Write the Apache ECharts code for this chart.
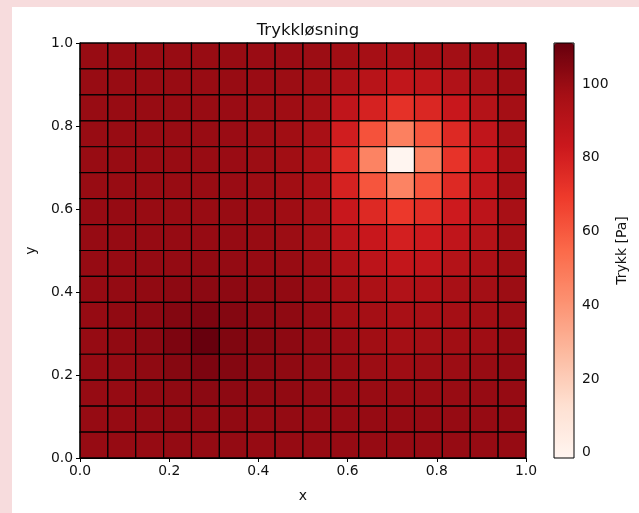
<!DOCTYPE html>
<html><head><meta charset="utf-8">
<script src="https://cdn.jsdelivr.net/npm/echarts@6/dist/echarts.min.js"></script>
<style>
html,body{margin:0;padding:0;background:#f7dcdd;width:639px;height:513px;overflow:hidden;}
#bg{position:absolute;left:12px;top:7px;right:0;bottom:0;background:#fff;}
#c{position:absolute;left:0;top:0;width:639px;height:513px;}
</style>
</head><body><div id="bg"></div><div id="c"></div>
<script>
// Pressure values, rows listed from top (y near 1) to bottom (y near 0), 16 columns from x=0 to x=1
const r00 = [100, 100, 100, 100, 100, 100, 99.5, 99.5, 99, 98, 96.5, 95.5, 96.5, 97.5, 98.5, 99.5];
const r01 = [100, 100, 100, 100, 100, 100, 99.5, 99, 98, 94, 90, 86.5, 88, 92.5, 96, 98.5];
const r02 = [100, 100, 100, 100, 100, 99.5, 99, 98.5, 97, 87, 79, 73, 77, 84, 91.5, 97];
const r03 = [100, 100, 100, 100, 100, 99.5, 99, 98, 95.5, 81, 62, 47, 61, 76, 87, 96];
const r04 = [100, 100, 100, 100, 100, 99.5, 99, 98, 94.5, 75, 46, -1.4, 47, 72, 85, 95];
const r05 = [100, 100, 100, 100, 100, 99.5, 99, 98, 95, 79, 61, 46, 61, 76, 86.5, 95.5];
const r06 = [100.5, 100.5, 100, 100, 100, 100, 99.5, 98.5, 96, 84, 76, 70, 74.5, 82, 88.5, 96];
const r07 = [100.5, 100.5, 100.5, 100.5, 100.5, 100.5, 100, 99, 97, 89, 84, 80, 82, 87, 91.5, 97];
const r08 = [100.5, 100.5, 101, 101, 101.5, 101, 100.5, 100, 98.5, 93.5, 88.5, 86, 87, 91.5, 95, 98];
const r09 = [100.5, 101, 101.5, 102.5, 103, 102.5, 102, 101.5, 99.5, 97, 94.5, 92.5, 93.5, 96, 97.5, 99];
const r10 = [100.5, 101.5, 102.5, 104.5, 106, 104.5, 103, 102, 100.5, 98, 97, 95.5, 96, 97, 98, 99];
const r11 = [100.5, 101.5, 103, 106, 111, 105.5, 104, 102.5, 101, 99.5, 98, 97, 97.5, 98, 98.5, 100];
const r12 = [100.5, 101, 102, 104, 106, 104.5, 103, 102, 101, 100, 99, 98.5, 99, 99, 100, 100.5];
const r13 = [100.5, 100.5, 101.5, 102, 103, 102.5, 102, 101.5, 101, 100.5, 100, 100, 100, 100, 100.5, 100.5];
const r14 = [100.5, 100.5, 101, 101.5, 101.5, 101.5, 101, 101, 100.5, 100.5, 100.5, 100.5, 100.5, 100.5, 100.5, 100.5];
const r15 = [100.5, 100.5, 100.5, 101, 101, 101, 100.5, 100.5, 100.5, 100.5, 100.5, 100.5, 100.5, 100.5, 100.5, 100.5];
const rowsTopToBottom = [r00, r01, r02, r03, r04, r05, r06, r07, r08, r09, r10, r11, r12, r13, r14, r15];

const xTicks = [0, 0.2, 0.4, 0.6, 0.8, 1.0];
const yTicks = [0, 0.2, 0.4, 0.6, 0.8, 1.0];
const cbarTicks = [0, 20, 40, 60, 80, 100];
const cbarMin = -1.4;
const cbarMax = 111.1;
const redsColors = ['#fff5f0', '#fee0d2', '#fcbba1', '#fc9272', '#fb6a4a', '#ef3b2c', '#cb181d', '#a50f15', '#67000d'];

const n = 16;
const cell = 1 / n;
const data = [];
rowsTopToBottom.forEach(function (row, r) {
  row.forEach(function (v, c) {
    data.push([c * cell, 1 - (r + 1) * cell, v]);
  });
});

const font = 'DejaVu Sans';
const chart = echarts.init(document.getElementById('c'), null, {renderer: 'canvas'});
chart.setOption({
  animation: false,
  backgroundColor: 'transparent',
  title: {
    text: 'Trykkløsning', left: 303, top: 17, textAlign: 'center',
    textStyle: {fontFamily: font, fontSize: 16.5, fontWeight: 'normal', color: '#111'}
  },
  grid: [
    {left: 80, top: 43, width: 446, height: 415, show: true, borderColor: '#000', borderWidth: 1, backgroundColor: 'transparent', z: 10},
    {left: 554, top: 43, width: 20, height: 415, show: true, borderColor: '#000', borderWidth: 1, backgroundColor: 'transparent', z: 10}
  ],
  xAxis: [
    {
      type: 'value', gridIndex: 0, min: 0, max: 1, interval: 0.2,
      name: 'x', nameLocation: 'middle', nameGap: 31,
      nameTextStyle: {fontFamily: font, fontSize: 14, color: '#111'},
      axisLine: {show: true, lineStyle: {color: '#000', width: 1}},
      axisTick: {show: true, length: 4, lineStyle: {color: '#000'}},
      axisLabel: {fontFamily: font, fontSize: 13.9, color: '#111', margin: 6, formatter: function (v) { return v.toFixed(1); }},
      splitLine: {show: false}
    },
    {type: 'value', gridIndex: 1, min: 0, max: 1, show: false}
  ],
  yAxis: [
    {
      type: 'value', gridIndex: 0, min: 0, max: 1, interval: 0.2,
      name: 'y', nameLocation: 'middle', nameGap: 42, nameRotate: 90,
      nameTextStyle: {fontFamily: font, fontSize: 14, color: '#111'},
      axisLine: {show: true, lineStyle: {color: '#000', width: 1}},
      axisTick: {show: true, length: 4, lineStyle: {color: '#000'}},
      axisLabel: {fontFamily: font, fontSize: 13.9, color: '#111', margin: 7, formatter: function (v) { return v.toFixed(1); }},
      splitLine: {show: false}
    },
    {
      type: 'value', gridIndex: 1, min: cbarMin, max: cbarMax, position: 'right',
      name: 'Trykk [Pa]', nameLocation: 'middle', nameGap: 41, nameRotate: 90,
      nameTextStyle: {fontFamily: font, fontSize: 14, color: '#111'},
      axisLine: {show: false},
      axisTick: {show: true, length: 4, lineStyle: {color: '#000'}, customValues: cbarTicks},
      axisLabel: {fontFamily: font, fontSize: 13.9, color: '#111', margin: 8, customValues: cbarTicks},
      splitLine: {show: false}
    }
  ],
  visualMap: {
    type: 'continuous', min: cbarMin, max: cbarMax, dimension: 2, seriesIndex: 0,
    left: 554, top: 43, itemWidth: 20, itemHeight: 415, padding: 0,
    calculable: false, text: null, showLabel: false, hoverLink: false,
    inRange: {color: redsColors}
  },
  series: [{
    type: 'custom', coordinateSystem: 'cartesian2d', xAxisIndex: 0, yAxisIndex: 0,
    encode: {x: 0, y: 1},
    data: data,
    renderItem: function (params, api) {
      const x0 = api.value(0), y0 = api.value(1);
      const p1 = api.coord([x0, y0 + cell]);
      const p2 = api.coord([x0 + cell, y0]);
      return {
        type: 'rect',
        shape: {x: p1[0], y: p1[1], width: p2[0] - p1[0], height: p2[1] - p1[1]},
        style: {fill: api.visual('color'), stroke: '#000', lineWidth: 1.2}
      };
    }
  }]
});
</script>
</body></html>
